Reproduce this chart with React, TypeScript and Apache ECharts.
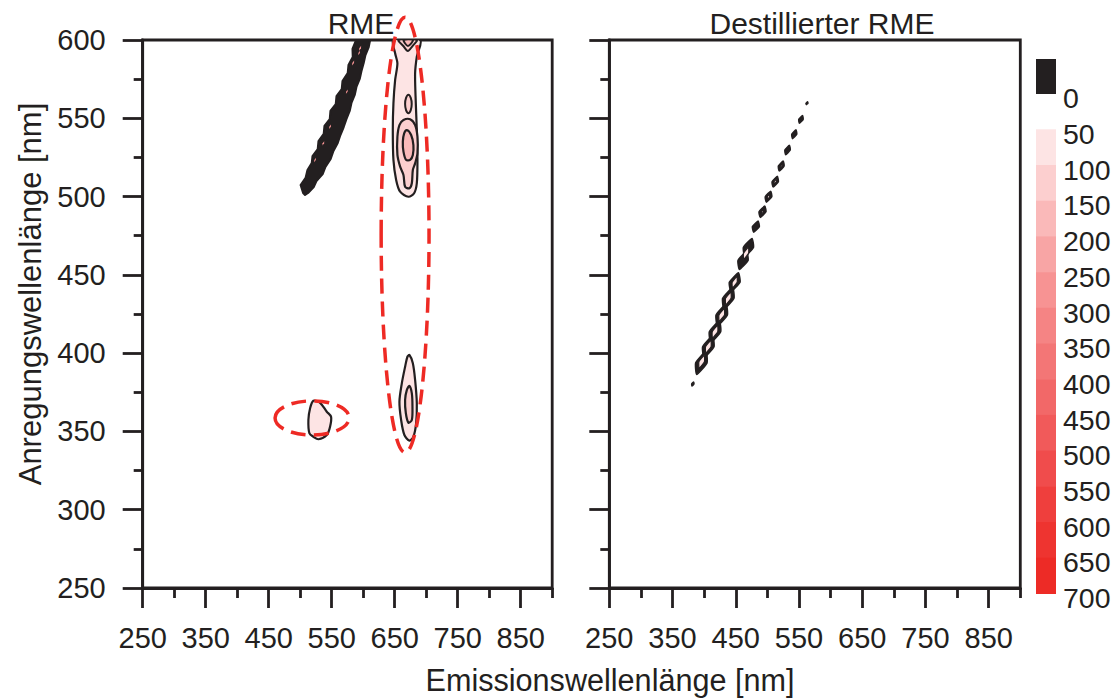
import React, { useEffect, useRef } from 'react';
import * as echarts from 'echarts';

type Pt = [number, number];
// centre x, centre y, half-length along the diagonal, half-width (all in nm)
type Blob = [number, number, number, number];

// ---- axes ----
const xMajorTicks = [250, 350, 450, 550, 650, 750, 850];
const xMinorTicks = [300, 400, 500, 600, 700, 800, 900];
const yMajorTicks = [250, 300, 350, 400, 450, 500, 550, 600];

// ---- contour levels (lower bound of each band) and their fills ----
const contourLevels = [0, 50, 100, 150, 200, 250, 300, 350, 400, 450, 500, 550, 600, 650, 700];
const levelFills = [
  '#231f20', '#fde4e4', '#fccfcf', '#fab9b9', '#f8a5a5', '#f79393', '#f58484',
  '#f37676', '#f26868', '#f15a5a', '#f04c4c', '#ef3f3d', '#ee3430', '#ed2b26',
];

// ---- RME: Rayleigh scatter band (level 0) ----
const rmeScatterBand: Pt[] = [
  [504.6, 502.3], [500.6, 507.4], [508.5, 511.9], [511.5, 517], [518.3, 521.4], [519.5, 525.9],
  [527.8, 530.4], [529, 535.5], [537.3, 540], [538.5, 545.1], [546.9, 549.5], [548, 554.7],
  [556.4, 559.1], [557.6, 564.2], [565.9, 568.7], [567.1, 573.8], [575.4, 578.9], [576.6, 584],
  [583.4, 589.1], [583, 594.3], [588.7, 600],
  [611, 600], [608.8, 595.5], [603.6, 590.4], [600.8, 585.3], [597.3, 580.2], [594.5, 575.1],
  [589.3, 570], [586.6, 564.9], [581.4, 559.8], [578.6, 554.7], [573.4, 549.5], [569.1, 544.4],
  [563.9, 539.3], [559.6, 534.2], [552.8, 529.1], [548.4, 524], [540.1, 518.9], [535.7, 514.4],
  [525.8, 509.9], [521.5, 506.1], [512.5, 502.3], [507.7, 501],
];
const rmeScatterSpecks: Blob[] = [
  [595.1, 594.7, 1.6, 1.4], [593.5, 591.7, 1.4, 1.2], [584, 585.3, 1.6, 1.4], [574, 567, 1.4, 1.2],
  [547.4, 544.6, 1.5, 1.3], [536.8, 534, 1.4, 1.2], [523.6, 523.4, 1.4, 1.2],
];

// ---- RME: fluorescence near 670 nm emission, 500–600 nm excitation ----
const rmeUpperOuter: Pt[] = [
  [648, 600], [650.7, 591.5], [654.3, 585.1], [650.7, 574.5], [648, 559.6], [647, 542.5],
  [648, 523.4], [652.3, 510.6], [658.6, 503.1], [671.8, 499.9], [680.8, 502.1], [685.1, 508.5],
  [686.1, 523.4], [685.1, 542.5], [683.5, 559.6], [682.4, 578.7], [685.1, 589.3], [690.4, 600],
];
const rmeUpperTopRing: Pt[] = [[656, 600], [664, 596], [670.8, 593], [678, 596], [685, 600]];
const rmeUpperTopCore: Pt[] = [[664, 600], [671, 596.2], [679, 600]];
const rmeUpperIsland: Pt[] = [
  [671.8, 565], [675.5, 563], [677, 559.1], [675.5, 555.2], [671.8, 553.2], [668, 555.2],
  [666.5, 559.1], [668, 563],
];
const rmeUpperMid: Pt[] = [
  [663.9, 548.9], [674.5, 549.4], [682.4, 545.7], [686.1, 538.2], [686.1, 527.6], [682.4, 521.2],
  [678.8, 517], [677.2, 508.5], [673.4, 505.3], [666.5, 506.3], [663.9, 513.8], [658.6, 519.1],
  [654.3, 526.6], [654.3, 538.2], [657.5, 545.7],
];
const rmeUpperCore: Pt[] = [
  [669.2, 542.5], [676.1, 539.3], [679.7, 532.9], [678.8, 526.6], [674.5, 523.4], [668.1, 523.4],
  [663.9, 528.7], [662.9, 535.1], [665, 540.4],
];

// ---- RME: fluorescence near 670 nm emission, 350–400 nm excitation ----
const rmeLowerOuter: Pt[] = [
  [673.4, 398.8], [678.8, 393.5], [682.4, 382.9], [685.1, 368], [684, 355.2], [679.7, 346.7],
  [673.4, 344.1], [665.4, 347.7], [660.2, 357.3], [657.5, 369], [661.3, 380.7], [666.5, 391.3],
  [670.2, 397.7],
];
const rmeLowerInner: Pt[] = [
  [673.4, 379], [677.2, 374.3], [678.2, 365.8], [677.2, 357.3], [671.8, 355.6], [667.7, 361.6],
  [666.5, 370.1], [669.2, 376.4],
];

// ---- RME: small peak near 520 nm emission, 355 nm excitation ----
const rmeSmallPeak: Pt[] = [
  [520.9, 369.6], [531.6, 368.3], [542.2, 362.6], [549, 359.4], [547.4, 353], [542.2, 347.7],
  [528.9, 345], [520.9, 346.6], [514.6, 348.8], [513, 357.3], [515.7, 364.8],
];

// ---- RME: dashed highlight ellipses [centre x, centre y, radius x, radius y] ----
const rmeHighlights: Blob[] = [
  [666.5, 475.5, 38, 139],
  [518.9, 358.6, 58.8, 10.9],
];

// ---- Destillierter RME: scatter chain along the diagonal ----
const distChainOuter: Blob[] = [
  [382.1, 380.3, 1.3, 1.8],
  [395.6, 393.8, 7.5, 9], [406.6, 404.1, 7, 9], [417.2, 413.7, 7, 9], [427.8, 424.4, 7, 9],
  [438.2, 435, 7, 9], [448.3, 445.3, 6, 8.5],
  [461.5, 459.2, 5.8, 8], [470, 467.5, 5.8, 8],
  [481.8, 480.8, 3.6, 5.5], [492.3, 490.3, 3.6, 5.5], [501.8, 499.9, 3.5, 5.2],
  [512.4, 509.5, 3.4, 5], [521.9, 519.5, 3.2, 4.6], [531.9, 529.7, 3, 4.3],
  [542.5, 539.8, 2.8, 4], [553.1, 549.3, 2.5, 3.5], [562.6, 559.6, 0.9, 1.6],
];
const distChainInner: Blob[] = [
  [396.1, 394.5, 4, 4.4], [406.6, 404.1, 4, 4.4], [417.2, 413.7, 4, 4.4],
  [427.8, 424.4, 4, 4.4], [438.2, 435, 4, 4.4], [448.3, 445.3, 3.5, 4],
  [466.3, 463.8, 3.8, 4],
  [492.3, 490.3, 1.3, 1.6], [501.8, 499.9, 1.5, 1.8], [512.4, 509.5, 1.5, 1.8],
  [521.9, 519.5, 1.2, 1.5],
];

const INK = '#231f20';
const HIGHLIGHT = '#ee2a24';
const AXIS_W = 2.8;
const FONT = '"Liberation Sans", Arial, Helvetica, sans-serif';

type Contour = { level: number; pts: Pt[]; smooth: number; lw: number };

const lozenge = ([cx, cy, l, w]: Blob): Pt[] => [
  [cx + l, cy + l], [cx + w, cy], [cx - l, cy - l], [cx - w, cy],
];

const rmeContours: Contour[] = [
  { level: 0, pts: rmeScatterBand, smooth: 0, lw: 2 },
  ...rmeScatterSpecks.map((b) => ({ level: 250, pts: lozenge(b), smooth: 0, lw: 0 })),
  { level: 50, pts: rmeUpperOuter, smooth: 0.3, lw: 2.2 },
  { level: 100, pts: rmeUpperTopRing, smooth: 0.3, lw: 2 },
  { level: 150, pts: rmeUpperTopCore, smooth: 0.3, lw: 2 },
  { level: 100, pts: rmeUpperIsland, smooth: 0.3, lw: 2 },
  { level: 100, pts: rmeUpperMid, smooth: 0.3, lw: 2.2 },
  { level: 150, pts: rmeUpperCore, smooth: 0.3, lw: 2.2 },
  { level: 50, pts: rmeLowerOuter, smooth: 0.3, lw: 2.2 },
  { level: 100, pts: rmeLowerInner, smooth: 0.3, lw: 2.2 },
  { level: 50, pts: rmeSmallPeak, smooth: 0.3, lw: 2.2 },
];

const distContours: Contour[] = [
  ...distChainOuter.map((b) => ({ level: 0, pts: lozenge(b), smooth: 0.15, lw: 1.5 })),
  ...distChainInner.map((b) => ({ level: 50, pts: lozenge(b), smooth: 0.15, lw: 1.2 })),
];

const fillFor = (level: number) => levelFills[contourLevels.indexOf(level)];

const contourSeries = (items: Contour[], xAxisIndex: number, yAxisIndex: number) => ({
  type: 'custom',
  xAxisIndex,
  yAxisIndex,
  clip: true,
  z: 2,
  data: items.map((it) => it.pts[0]),
  renderItem: (params: any, api: any) => {
    const it = items[params.dataIndex];
    return {
      type: 'polygon',
      shape: { points: it.pts.map((p) => api.coord(p)), smooth: it.smooth },
      style: {
        fill: fillFor(it.level),
        stroke: it.lw > 0 ? INK : 'none',
        lineWidth: it.lw,
        lineJoin: 'round',
      },
    };
  },
});

const panels = [
  { left: 142.7, width: 409.5, title: 'RME', titleX: 361 },
  { left: 609.3, width: 411, title: 'Destillierter RME', titleX: 822 },
];
const GRID_TOP = 40;
const GRID_H = 548;

function buildOption() {
  const axisLine = { show: true, onZero: false, lineStyle: { color: INK, width: AXIS_W } };
  const tickStyle = { color: INK, width: AXIS_W };
  const labelStyle = { color: INK, fontSize: 29, fontFamily: FONT };

  const xAxis: any[] = [];
  panels.forEach((_, g) => {
    xAxis.push({
      gridIndex: g, type: 'value', min: 250, max: 900, position: 'bottom',
      axisLine,
      axisTick: { show: true, customValues: xMajorTicks, length: 20, inside: false, lineStyle: tickStyle },
      axisLabel: { show: true, customValues: xMajorTicks, margin: 35, ...labelStyle },
      splitLine: { show: false },
    });
    xAxis.push({
      gridIndex: g, type: 'value', min: 250, max: 900, position: 'bottom',
      axisLine: { show: false },
      axisTick: { show: true, customValues: xMinorTicks, length: 10, inside: false, lineStyle: tickStyle },
      axisLabel: { show: false },
      splitLine: { show: false },
    });
  });

  const yAxis: any[] = panels.map((_, g) => ({
    gridIndex: g, type: 'value', min: 250, max: 600, interval: 50, position: 'left',
    axisLine,
    axisTick: { show: true, length: 20, inside: false, lineStyle: tickStyle },
    minorTick: { show: true, splitNumber: 2, length: 9, lineStyle: tickStyle },
    axisLabel: { show: g === 0, customValues: yMajorTicks, margin: 37, ...labelStyle },
    splitLine: { show: false },
    minorSplitLine: { show: false },
  }));

  const grid = panels.map((p) => ({
    left: p.left, top: GRID_TOP, width: p.width, height: GRID_H,
    show: true, borderColor: INK, borderWidth: AXIS_W, backgroundColor: 'transparent',
    containLabel: false,
  }));

  // colour bar
  const barX = 1036;
  const barW = 20;
  const segTop = 129.3;
  const segH = 35.7;
  const graphic: any[] = [
    { type: 'rect', shape: { x: barX, y: 59, width: barW, height: 35 }, style: { fill: levelFills[0] } },
    {
      type: 'text', x: 1063, y: 97.5,
      style: { text: String(contourLevels[0]), fontSize: 28.5, fontFamily: FONT, fill: INK, align: 'left', verticalAlign: 'middle' },
    },
  ];
  for (let k = 1; k < levelFills.length; k++) {
    graphic.push({
      type: 'rect',
      shape: { x: barX, y: segTop + (k - 1) * segH, width: barW, height: segH + 0.6 },
      style: { fill: levelFills[k] },
    });
  }
  for (let k = 1; k < contourLevels.length; k++) {
    graphic.push({
      type: 'text', x: 1063, y: 134 + (k - 1) * segH,
      style: { text: String(contourLevels[k]), fontSize: 28.5, fontFamily: FONT, fill: INK, align: 'left', verticalAlign: 'middle' },
    });
  }
  // panel titles and axis names
  panels.forEach((p) => {
    graphic.push({
      type: 'text', x: p.titleX, y: 23,
      style: { text: p.title, fontSize: 30, fontFamily: FONT, fill: INK, align: 'center', verticalAlign: 'middle' },
    });
  });
  graphic.push({
    type: 'text', x: 610, y: 680,
    style: { text: 'Emissionswellenlänge [nm]', fontSize: 30.6, fontFamily: FONT, fill: INK, align: 'center', verticalAlign: 'middle' },
  });
  graphic.push({
    type: 'text', x: 30, y: 294, rotation: Math.PI / 2,
    style: { text: 'Anregungswellenlänge [nm]', fontSize: 31, fontFamily: FONT, fill: INK, align: 'center', verticalAlign: 'middle' },
  });

  const highlightSeries = {
    type: 'custom',
    xAxisIndex: 0,
    yAxisIndex: 0,
    clip: false,
    z: 5,
    data: rmeHighlights.map((e) => [e[0], e[1]]),
    renderItem: (params: any, api: any) => {
      const e = rmeHighlights[params.dataIndex];
      const c = api.coord([e[0], e[1]]);
      const s = api.size([e[2], e[3]]);
      return {
        type: 'ellipse',
        shape: { cx: c[0], cy: c[1], rx: s[0], ry: s[1] },
        style: { fill: 'none', stroke: HIGHLIGHT, lineWidth: 3.5, lineDash: [15, 8] },
      };
    },
  };

  return {
    animation: false,
    backgroundColor: '#ffffff',
    textStyle: { fontFamily: FONT },
    grid,
    xAxis,
    yAxis,
    series: [
      contourSeries(rmeContours, 0, 0),
      contourSeries(distContours, 2, 1),
      highlightSeries,
    ],
    graphic,
  };
}

export default function App() {
  const ref = useRef<HTMLDivElement>(null);
  useEffect(() => {
    if (!ref.current) return;
    const chart = echarts.init(ref.current, undefined, { renderer: 'svg' });
    chart.setOption(buildOption() as any);
    return () => chart.dispose();
  }, []);
  return (
    <div
      ref={ref}
      style={{ position: 'fixed', left: 0, top: 0, width: 1119, height: 698, background: '#fff' }}
    />
  );
}
